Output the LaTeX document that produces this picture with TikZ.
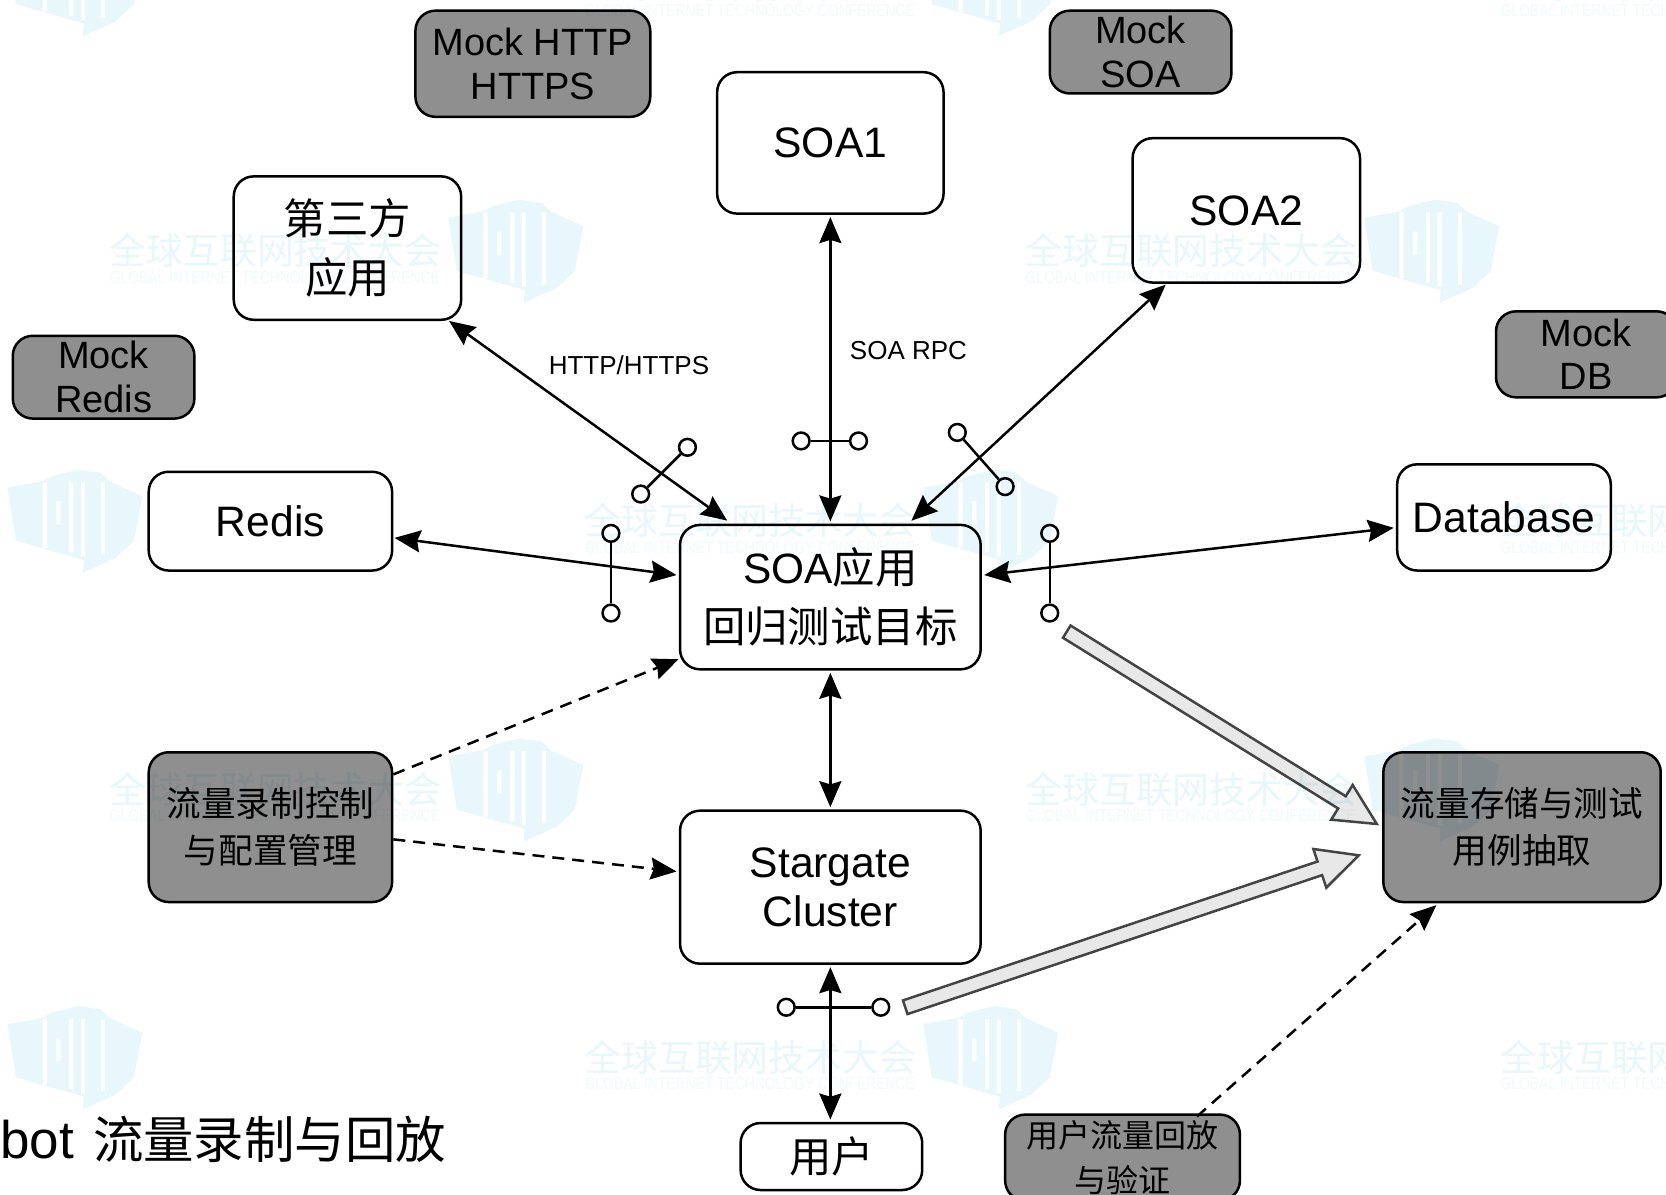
\documentclass[tikz,border=0pt]{standalone}
\usepackage{fontspec}
\usepackage{graphicx}
\setmainfont{Liberation Sans}
\newfontfamily\cjkfam{Noto Sans CJK SC}
\newcommand{\cj}[1]{{\cjkfam #1}}
\usetikzlibrary{arrows.meta,calc}
\definecolor{boxgray}{HTML}{8F8F8F}
\definecolor{markblue}{HTML}{E8F7FC}
\definecolor{markpale}{HTML}{F1FAFD}
\definecolor{blockfill}{HTML}{E8E8E8}
\definecolor{blockline}{HTML}{444444}
\tikzset{
  basebox/.style={draw=black,line width=1.25pt,rounded corners=10pt,inner sep=0pt,align=center,text=black},
  whitebox/.style={basebox,fill=white},
  graybox/.style={basebox,fill=boxgray},
  fsbig/.style={font=\fontsize{21.3}{24.5}\selectfont},
  fscj/.style={font=\fontsize{21.2}{29.5}\selectfont},
  fsmock/.style={font=\fontsize{19}{21.8}\selectfont},
  fsgray/.style={font=\fontsize{17.3}{23.4}\selectfont},
  fsreplay/.style={font=\fontsize{16}{22.3}\selectfont},
  edgelabel/.style={font=\fontsize{13}{15}\selectfont,inner sep=0pt},
  twoway/.style={line width=1.25pt,shorten >=-1pt,shorten <=-1pt,{Stealth[length=13pt,width=11pt,inset=1.6pt]}-{Stealth[length=13pt,width=11pt,inset=1.6pt]}},
  dashedflow/.style={line width=1.25pt,shorten >=-1pt,dash pattern=on 6pt off 4pt,-{Stealth[length=13pt,width=11pt,inset=1.6pt]}},
  probe/.style={circle,draw=black,line width=1.25pt,fill=white,inner sep=0pt,minimum size=8.4pt},
  probeline/.style={line width=1.25pt},
  blockarrow/.style={draw=blockline,fill=blockfill,line width=1.25pt,line join=miter},
  wmcjk/.style={font=\fontsize{18.4}{20}\selectfont,text=markblue,inner sep=0pt,anchor=west},
  wmen/.style={text=markpale,inner sep=0pt,anchor=west}
}
\newcommand{\blockarr}[2]{%
  \coordinate (hb) at ($(#2)!20.5pt!(#1)$);
  \draw[blockarrow] ($(#1)!3.6pt!90:(#2)$) -- ($(hb)!3.6pt!-90:(#1)$) -- ($(hb)!10.2pt!-90:(#1)$) -- (#2)
    -- ($(hb)!10.2pt!90:(#1)$) -- ($(hb)!3.6pt!90:(#1)$) -- ($(#1)!3.6pt!-90:(#2)$) -- cycle;
}
\newcommand{\wmtile}[2]{%
  \begin{scope}[shift={(#1,#2)}]
    \node[wmcjk] (wa#1#2) at (0,18) {\cj{全球互联网技术大会}};
    \node[wmen] (wb#1#2) at (0,43) {\resizebox{165pt}{6pt}{\fontsize{8}{8}\selectfont GLOBAL INTERNET TECHNOLOGY CONFERENCE}};
    \begin{scope}[shift={(319,-30)}]
      \fill[markblue,even odd rule] (0,17) -- (8,67) -- (33,74) -- (72,85) -- (71,97) -- (102,83) -- (119,67) -- (127,25) -- (96,11) -- (88,3) -- (67,0) -- (42,6) -- (33,11) -- cycle
        (33,12) rectangle (37,74)
        (46,30) rectangle (50,52)
        (58,12) rectangle (62,78)
        (69,12) rectangle (73,82)
        (88,12) rectangle (92,80);
    \end{scope}
  \end{scope}
}
\begin{document}
\begin{tikzpicture}[x=0.53125pt,y=-0.53125pt]
\clip (0,0) rectangle (1568,1124.7);
\fill[white] (0,0) rectangle (1568,1124.7);
% boxes
\node[graybox,fsmock,minimum width=117.4pt,minimum height=53.1pt] (mockhttp) at (501.5,60) {Mock HTTP\\HTTPS};
\node[graybox,fsmock,minimum width=90.8pt,minimum height=41.4pt] (mocksoa) at (1073.5,49) {Mock\\SOA};
\node[whitebox,fsbig,minimum width=113.2pt,minimum height=70.7pt] (soaone) at (781.5,134.5) {SOA1};
\node[whitebox,fsbig,minimum width=113.7pt,minimum height=72.2pt] (soatwo) at (1173,198) {SOA2};
\node[whitebox,fscj,minimum width=113.7pt,minimum height=71.7pt] (third) at (327,233.5) {\cj{第三方}\\\cj{应用}};
\node[graybox,fsmock,minimum width=90.3pt,minimum height=43pt] (mockdb) at (1493,333.5) {Mock\\DB};
\node[graybox,fsmock,minimum width=90.8pt,minimum height=41.4pt] (mockredis) at (97.5,355) {Mock\\Redis};
\node[whitebox,fsbig,minimum width=121.7pt,minimum height=49.4pt] (redis) at (254.5,490.5) {Redis};
\node[whitebox,fsbig,minimum width=106.8pt,minimum height=53.1pt] (database) at (1415.5,487) {Database};
\node[whitebox,fscj,minimum width=150.3pt,minimum height=72.2pt] (app) at (781.5,562) {SOA\cj{应用}\\\cj{回归测试目标}};
\node[graybox,fsgray,minimum width=121.7pt,minimum height=74.9pt] (control) at (254.5,778.5) {\cj{流量录制控制}\\\cj{与配置管理}};
\node[graybox,fsgray,minimum width=138.7pt,minimum height=74.9pt] (store) at (1432.5,778.5) {\cj{流量存储与测试}\\\cj{用例抽取}};
\node[whitebox,fsbig,minimum width=150.3pt,minimum height=76.5pt] (stargate) at (781.5,835) {Stargate\\Cluster};
\node[whitebox,fscj,minimum width=90.8pt,minimum height=33.5pt] (user) at (782.5,1088.5) {\cj{用户}};
\node[graybox,fsreplay,minimum width=117.4pt,minimum height=43pt] (replay) at (1056.5,1089.5) {\cj{用户流量回放}\\\cj{与验证}};
% labels
\node[edgelabel] (lblhttp) at (592,344) {HTTP/HTTPS};
\node[edgelabel] (lblsoa) at (855,330) {SOA RPC};
\node[inner sep=0pt,anchor=west,font=\fontsize{26.5}{30}\selectfont] (title) at (0,1072) {bot\hspace{9.5pt}\fontsize{25.2}{30}\selectfont\cj{流量录制与回放}};
% connectors
\draw[twoway] ([shift={(-11,1)}]third.south east) -- ([shift={(44,-4)}]app.north west);
\draw[twoway] ([shift={(0,4)}]soaone.south) -- ([shift={(0,-4)}]app.north);
\draw[twoway] ([shift={(31,2)}]soatwo.south west) -- ([shift={(-65,-4)}]app.north east);
\draw[twoway] ([shift={(3,16)}]redis.east) -- ([shift={(-4,-21)}]app.west);
\draw[twoway] ([shift={(-4,10)}]database.west) -- ([shift={(4,-21)}]app.east);
\draw[dashedflow] ([shift={(0,22)}]control.north east) -- ([shift={(-2,-10)}]app.south west);
\draw[dashedflow] ([shift={(0,11.5)}]control.east) -- ([shift={(-4,-15)}]stargate.west);
\draw[twoway] ([shift={(0,4)}]app.south) -- ([shift={(0,-4)}]stargate.north);
\draw[twoway] ([shift={(0,4)}]stargate.south) -- ([shift={(-1,-4)}]user.north);
\draw[dashedflow] ([shift={(70,3)}]replay.north) -- ([shift={(-82,3)}]store.south);
% probes
\node[probe] (pa1) at (603,465) {};
\node[probe] (pa2) at (647,421) {};
\draw[probeline] (pa1) -- (pa2);
\node[probe] (pb1) at (754,415) {};
\node[probe] (pb2) at (808,415) {};
\draw[probeline] (pb1) -- (pb2);
\node[probe] (pc1) at (901,407) {};
\node[probe] (pc2) at (946,458) {};
\draw[probeline] (pc1) -- (pc2);
\node[probe] (pd1) at (575,502) {};
\node[probe] (pd2) at (575,577) {};
\draw[probeline] (pd1) -- (pd2);
\node[probe] (pe1) at (988,502) {};
\node[probe] (pe2) at (988,577) {};
\draw[probeline] (pe1) -- (pe2);
\node[probe] (pf1) at (740,948) {};
\node[probe] (pf2) at (829,948) {};
\draw[probeline] (pf1) -- (pf2);
% block arrows
\coordinate (tailA) at (1004,594.5);
\coordinate (tipA) at ([shift={(-5,-3)}]store.west);
\blockarr{tailA}{tipA}
\coordinate (tailB) at (852,948);
\coordinate (tipB) at ([shift={(-22,26.5)}]store.west);
\blockarr{tailB}{tipB}
% watermark
\begin{scope}[blend mode=multiply]
\wmtile{103}{218}
\wmtile{965}{218}
\wmtile{103}{725}
\wmtile{965}{725}
\wmtile{550}{472}
\wmtile{-312}{472}
\wmtile{1412}{472}
\wmtile{550}{977}
\wmtile{-312}{977}
\wmtile{1412}{977}
\wmtile{550}{-33}
\wmtile{-312}{-33}
\wmtile{1412}{-33}
\end{scope}
\end{tikzpicture}
\end{document}
